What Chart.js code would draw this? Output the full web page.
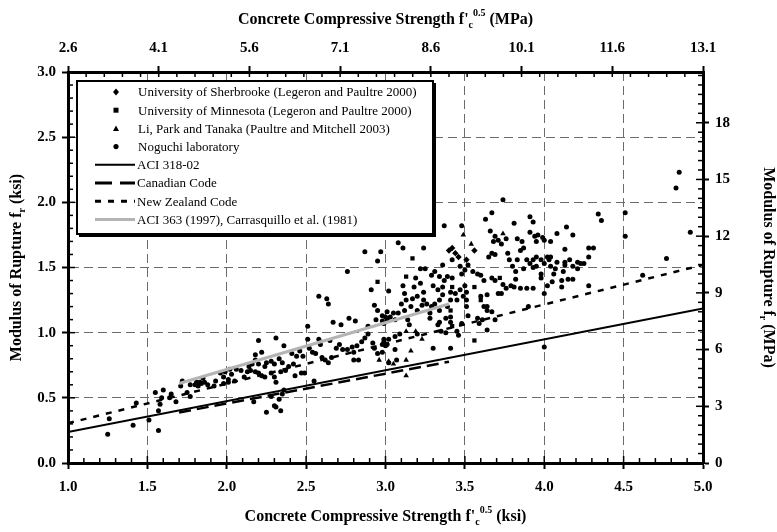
<!DOCTYPE html>
<html>
<head>
<meta charset="utf-8">
<script src="https://cdn.jsdelivr.net/npm/chart.js@4"></script>
<style>
  html, body { margin: 0; padding: 0; background: #fff; }
  #wrap { width: 777px; height: 532px; }
</style>
</head>
<body>
<div id="wrap"><canvas id="rupture" width="777" height="532"></canvas></div>
<script>
// ================= DATA =================
// x = sqrt(f'c) in ksi^0.5, y = modulus of rupture in ksi
const sherbrooke = [
  [3.40, 1.63], [3.42, 1.65], [3.44, 1.61], [3.46, 1.58], [3.51, 1.56], [3.56, 1.63]
];
const minnesota = [
  [3.17, 1.57], [3.13, 1.43], [3.42, 1.35], [3.56, 1.35], [3.72, 1.42], [3.41, 1.17],
  [3.42, 1.05], [3.56, 0.94], [3.60, 1.25], [2.95, 1.39]
];
const liParkTanaka = [
  [3.49, 1.75], [3.74, 1.76], [3.54, 1.68], [3.19, 1.01], [3.13, 1.01], [3.23, 0.95],
  [3.16, 0.86], [3.13, 0.79], [3.02, 0.78], [3.05, 0.76], [3.13, 0.67], [2.96, 0.79]
];
const noguchi = [
  [1.25, 0.22], [1.26, 0.34], [1.41, 0.29], [1.43, 0.46], [1.51, 0.33], [1.57, 0.25],
  [1.57, 0.40], [1.55, 0.54], [1.58, 0.45], [1.59, 0.50], [1.60, 0.56], [1.64, 0.50],
  [1.65, 0.53], [1.68, 0.47], [1.71, 0.59], [1.72, 0.63], [1.75, 0.54], [1.77, 0.51],
  [1.77, 0.60], [1.81, 0.62], [1.83, 0.62], [1.85, 0.65], [1.84, 0.61], [1.88, 0.60],
  [1.92, 0.59], [1.93, 0.63], [1.96, 0.69], [1.98, 0.61], [1.99, 0.70], [2.01, 0.64],
  [2.02, 0.72], [1.80, 0.60], [1.82, 0.59], [1.86, 0.62],
  [2.87, 1.62], [2.97, 1.62], [2.95, 1.55], [2.76, 1.47], [2.91, 1.33], [3.02, 1.32],
  [2.58, 1.28], [2.63, 1.26], [2.64, 1.22], [2.93, 1.21], [2.95, 1.17], [3.01, 1.16],
  [2.67, 1.08], [2.72, 1.06], [2.77, 1.11], [2.81, 1.09], [2.51, 1.05], [2.89, 1.05],
  [2.94, 1.10], [2.98, 1.09], [3.00, 1.12],
  [2.20, 0.94], [2.31, 0.96], [2.22, 0.85], [2.18, 0.83], [2.36, 0.90], [2.51, 0.95],
  [2.58, 0.95], [2.59, 0.91], [2.65, 0.94], [2.41, 0.84], [2.44, 0.82], [2.46, 0.86],
  [2.48, 0.82], [2.52, 0.88], [2.54, 0.85], [2.56, 0.84], [2.60, 0.81], [2.62, 0.79],
  [2.64, 0.77], [2.66, 0.81], [2.69, 0.88], [2.71, 0.91], [2.73, 0.87], [2.76, 0.87],
  [2.79, 0.89], [2.80, 0.85], [2.82, 0.90], [2.85, 0.93], [2.87, 0.96], [2.89, 0.99],
  [2.92, 0.92], [2.93, 0.88], [2.95, 0.84], [2.98, 0.91], [2.99, 0.95], [3.01, 0.91],
  [2.80, 0.79], [2.83, 0.79], [3.02, 0.77],
  [2.33, 0.80], [2.35, 0.77], [2.30, 0.76], [2.28, 0.78], [2.25, 0.77], [2.24, 0.74],
  [2.20, 0.76], [2.18, 0.79], [2.16, 0.76], [2.14, 0.74], [2.15, 0.71], [2.18, 0.70],
  [2.20, 0.69], [2.22, 0.67], [2.24, 0.66], [2.28, 0.69], [2.30, 0.66], [2.31, 0.62],
  [2.34, 0.70], [2.37, 0.71], [2.39, 0.74], [2.42, 0.76], [2.43, 0.67], [2.47, 0.69],
  [2.49, 0.69], [2.09, 0.71], [2.06, 0.72], [2.03, 0.68], [2.01, 0.62], [2.05, 0.63],
  [2.11, 0.66], [2.13, 0.70], [1.98, 0.66], [2.55, 0.63], [2.36, 0.56], [2.35, 0.53],
  [2.33, 0.49], [2.28, 0.51], [2.17, 0.47], [2.25, 0.39], [2.30, 0.44], [2.31, 0.43],
  [2.34, 0.40],
  [3.74, 2.02], [3.67, 1.92], [3.63, 1.87], [3.81, 1.84], [3.91, 1.89], [3.93, 1.85],
  [3.37, 1.82], [3.48, 1.82], [3.66, 1.78], [3.69, 1.74], [3.76, 1.72], [3.68, 1.70],
  [3.71, 1.71], [3.73, 1.68], [3.83, 1.72], [3.86, 1.70], [3.91, 1.77], [3.94, 1.74],
  [3.96, 1.75], [3.99, 1.73], [3.95, 1.70], [4.00, 1.71], [3.08, 1.69], [3.11, 1.65],
  [3.24, 1.65], [3.42, 1.56], [3.52, 1.52], [3.47, 1.51], [3.65, 1.58], [3.67, 1.61],
  [3.69, 1.60], [3.77, 1.61], [3.78, 1.56], [3.83, 1.56], [3.85, 1.63], [3.87, 1.65],
  [3.89, 1.56], [3.91, 1.53], [3.93, 1.56], [3.95, 1.58], [3.98, 1.56], [4.00, 1.53],
  [4.02, 1.58], [3.87, 1.49], [3.93, 1.50], [3.95, 1.51], [3.98, 1.45], [3.98, 1.42],
  [3.80, 1.51], [3.82, 1.47], [3.82, 1.41], [3.22, 1.49], [3.25, 1.49], [3.36, 1.52],
  [3.31, 1.47], [3.29, 1.44], [3.34, 1.43], [3.37, 1.40], [3.39, 1.43], [3.42, 1.42],
  [3.48, 1.45], [3.50, 1.48], [3.55, 1.47], [3.58, 1.45], [3.60, 1.44], [3.19, 1.42],
  [3.22, 1.38], [3.18, 1.35], [3.11, 1.36], [3.12, 1.30], [3.24, 1.31], [3.30, 1.36],
  [3.33, 1.33], [3.36, 1.35], [3.41, 1.31], [3.44, 1.30], [3.47, 1.33], [3.50, 1.36],
  [3.51, 1.31], [3.62, 1.40], [3.67, 1.42], [3.69, 1.40], [3.74, 1.37], [3.76, 1.34],
  [3.79, 1.36], [3.81, 1.35], [3.85, 1.34], [3.89, 1.34], [3.93, 1.34], [3.71, 1.30],
  [3.73, 1.30], [3.64, 1.29], [3.60, 1.28], [3.62, 1.20], [3.64, 1.17], [3.67, 1.16],
  [3.69, 1.10], [3.61, 1.10], [3.59, 1.07], [3.52, 1.13], [3.51, 1.20], [3.51, 1.25],
  [3.49, 1.28], [3.45, 1.25], [3.41, 1.25], [3.36, 1.29], [3.34, 1.25], [3.31, 1.22],
  [3.29, 1.20], [3.28, 1.15], [3.28, 1.11], [3.34, 1.17], [3.39, 1.20], [3.41, 1.12],
  [3.38, 1.11], [3.41, 1.08], [3.45, 1.01], [3.48, 1.07], [3.64, 1.02], [3.38, 1.00],
  [3.35, 1.01], [3.33, 1.06], [3.34, 1.08], [3.26, 1.22], [3.24, 1.25], [3.20, 1.28],
  [3.17, 1.26], [3.13, 1.25], [3.10, 1.22], [3.16, 1.20], [3.20, 1.17], [3.23, 1.21],
  [3.12, 1.17], [3.08, 1.15], [3.05, 1.15], [3.03, 1.12], [3.01, 1.10], [2.98, 1.13],
  [2.99, 1.07], [3.06, 1.10], [3.14, 1.10], [3.15, 1.06], [3.20, 0.99], [3.09, 0.99],
  [3.06, 0.97], [3.02, 0.95], [2.99, 0.93], [3.00, 0.90], [2.98, 0.85], [3.06, 0.87],
  [3.07, 0.79], [3.30, 0.88], [3.41, 0.88], [3.46, 0.98], [3.58, 1.11], [4.00, 0.89],
  [3.90, 1.20], [4.00, 1.30], [3.64, 1.20],
  [4.85, 2.23], [4.83, 2.11], [4.92, 1.77], [4.34, 1.91], [4.36, 1.86], [4.51, 1.92],
  [4.51, 1.74], [4.14, 1.81], [4.08, 1.76], [4.18, 1.75], [4.04, 1.70], [4.13, 1.64],
  [4.28, 1.65], [4.31, 1.65], [4.28, 1.58], [4.03, 1.56], [4.04, 1.58], [4.08, 1.54],
  [4.13, 1.54], [4.16, 1.56], [4.13, 1.52], [4.18, 1.51], [4.21, 1.54], [4.23, 1.53],
  [4.25, 1.53], [4.21, 1.49], [4.04, 1.51], [4.07, 1.49], [4.12, 1.47], [4.06, 1.45],
  [4.15, 1.41], [4.18, 1.41], [4.11, 1.40], [4.05, 1.39], [4.02, 1.36], [4.11, 1.35],
  [4.28, 1.36], [4.77, 1.57], [4.62, 1.44]
];

// code equations, end points of each line
const aci318X = [1.0, 5.0], aci318Y = [0.237, 1.186];
const canadianX = [1.7, 3.4], canadianY = [0.388, 0.777];
const newZealandX = [1.0, 5.0], newZealandY = [0.305, 1.52];
const aci363X = [1.7, 3.4], aci363Y = [0.61, 1.22];

// secondary axes (MPa)
const topTicks = [2.6, 4.1, 5.6, 7.1, 8.6, 10.1, 11.6, 13.1];
const rightTicks = [0, 3, 6, 9, 12, 15, 18];

const legendLabels = [
  "University of Sherbrooke (Legeron and Paultre 2000)",
  "University of Minnesota (Legeron and Paultre 2000)",
  "Li, Park and Tanaka (Paultre and Mitchell 2003)",
  "Noguchi laboratory",
  "ACI 318-02",
  "Canadian Code",
  "New Zealand Code",
  "ACI 363 (1997), Carrasquillo et al. (1981)"
];

// ================= HELPERS =================
const SERIF = "'Liberation Serif', 'Times New Roman', serif";
const pts = arr => arr.map(p => ({ x: p[0], y: p[1] }));
const line = (xs, ys) => xs.map((x, i) => ({ x, y: ys[i] }));

const GRID = "#6b6b6b";
const edgeless = (lo, hi) => ctx =>
  (ctx.tick && (Math.abs(ctx.tick.value - lo) < 1e-6 || Math.abs(ctx.tick.value - hi) < 1e-6))
    ? "rgba(0,0,0,0)" : GRID;

// text with sub/superscript pieces: [text, kind] kind = 0 normal, -1 sub, 1 sup
function drawRich(ctx, parts, cx, cy, angle) {
  const big = "bold 16px " + SERIF, small = "bold 10px " + SERIF;
  let total = 0;
  parts.forEach(p => { ctx.font = p[1] ? small : big; total += ctx.measureText(p[0]).width; });
  ctx.save();
  ctx.translate(cx, cy);
  ctx.rotate(angle);
  ctx.fillStyle = "#000";
  ctx.textBaseline = "middle";
  ctx.textAlign = "left";
  let x = -total / 2;
  parts.forEach(p => {
    ctx.font = p[1] ? small : big;
    const dy = p[1] === -1 ? 5 : p[1] === 1 ? -7 : 0;
    ctx.fillText(p[0], x, dy);
    x += ctx.measureText(p[0]).width;
  });
  ctx.restore();
}

// ================= PLUGINS =================
const axisDecor = {
  id: "axisDecor",
  afterDraw(chart) {
    const { ctx, chartArea: a, scales } = chart;
    ctx.save();
    ctx.strokeStyle = "#000";
    ctx.lineWidth = 1.5;
    const tick = (x1, y1, x2, y2) => { ctx.beginPath(); ctx.moveTo(x1, y1); ctx.lineTo(x2, y2); ctx.stroke(); };

    // inward minor ticks
    for (let v = 1.0; v <= 5.0001; v += 0.1) {
      const x = scales.x.getPixelForValue(v);
      const major = Math.abs(v * 2 - Math.round(v * 2)) < 1e-6;
      tick(x, a.bottom, x, a.bottom - (major ? 7 : 5));
    }
    for (let v = 0; v <= 3.0001; v += 0.1) {
      const y = scales.y.getPixelForValue(v);
      const major = Math.abs(v * 2 - Math.round(v * 2)) < 1e-6;
      tick(a.left, y, a.left + (major ? 7 : 5), y);
    }
    for (let v = 2.6; v <= 13.1001; v += 0.3) {
      const x = scales.x2.getPixelForValue(v);
      tick(x, a.top, x, a.top + 5);
    }
    for (let v = 0; v <= 20.6; v += 0.5) {
      const y = scales.y2.getPixelForValue(v);
      const major = Math.abs(v / 3 - Math.round(v / 3)) < 1e-6;
      tick(a.right, y, a.right - (major ? 7 : 5), y);
    }
    ctx.restore();

    // axis titles
    const midX = (a.left + a.right) / 2, midY = (a.top + a.bottom) / 2;
    const base = "Concrete Compressive Strength f'";
    drawRich(ctx, [[base, 0], ["c", -1], ["0.5", 1], [" (ksi)", 0]], midX, 517, 0);
    drawRich(ctx, [[base, 0], ["c", -1], ["0.5", 1], [" (MPa)", 0]], midX, 20, 0);
    drawRich(ctx, [["Modulus of Rupture f", 0], ["r", -1], [" (ksi)", 0]], 17, midY, -Math.PI / 2);
    drawRich(ctx, [["Modulus of Rupture f", 0], ["r", -1], [" (MPa)", 0]], 768, midY, Math.PI / 2);
  }
};

const boxLegend = {
  id: "boxLegend",
  afterDatasetsDraw(chart) {
    const ctx = chart.ctx;
    const x0 = 77, y0 = 81, x1 = 433, y1 = 234;
    ctx.save();
    ctx.fillStyle = "#000";
    ctx.fillRect(x0 + 2, y0 + 2, x1 - x0 + 1, y1 - y0 + 1);
    ctx.fillStyle = "#fff";
    ctx.fillRect(x0, y0, x1 - x0, y1 - y0);
    ctx.strokeStyle = "#000";
    ctx.lineWidth = 2;
    ctx.strokeRect(x0, y0, x1 - x0, y1 - y0);

    const mx = 116, lx0 = 95, lx1 = 135, tx = 137;
    const rowY = i => 92 + i * 18.2;
    ctx.fillStyle = "#000";
    // markers
    let y = rowY(0);
    ctx.beginPath(); ctx.moveTo(mx, y - 3.5); ctx.lineTo(mx + 3, y); ctx.lineTo(mx, y + 3.5); ctx.lineTo(mx - 3, y); ctx.closePath(); ctx.fill();
    y = rowY(1); ctx.fillRect(mx - 2.5, y - 2.5, 5, 5);
    y = rowY(2); ctx.beginPath(); ctx.moveTo(mx, y - 3); ctx.lineTo(mx + 3, y + 2.5); ctx.lineTo(mx - 3, y + 2.5); ctx.closePath(); ctx.fill();
    y = rowY(3); ctx.beginPath(); ctx.arc(mx, y, 2.6, 0, Math.PI * 2); ctx.fill();
    // line samples
    const sample = (i, dash, w, color) => {
      ctx.save();
      ctx.setLineDash(dash); ctx.lineWidth = w; ctx.strokeStyle = color;
      ctx.beginPath(); ctx.moveTo(lx0, rowY(i)); ctx.lineTo(lx1, rowY(i)); ctx.stroke();
      ctx.restore();
    };
    sample(4, [], 2, "#000");
    sample(5, [17, 8], 3, "#000");
    sample(6, [6, 7], 3, "#000");
    sample(7, [], 3, "#b4b4b4");
    // labels
    ctx.font = "13px " + SERIF;
    ctx.textBaseline = "middle";
    ctx.textAlign = "left";
    legendLabels.forEach((t, i) => {
      const x = i < 4 ? tx + 1 : tx;
      ctx.fillText(t, x, rowY(i) + 1);
    });
    ctx.restore();
  }
};

// ================= CHART =================
const tickFont = { family: SERIF, size: 15, weight: "bold" };

new Chart(document.getElementById("rupture"), {
  type: "scatter",
  data: {
    datasets: [
      { data: line(aci363X, aci363Y), type: "line", showLine: true, borderColor: "#b4b4b4", borderWidth: 3, pointRadius: 0, xAxisID: "x", yAxisID: "y" },
      { data: line(aci318X, aci318Y), type: "line", showLine: true, borderColor: "#000", borderWidth: 2, pointRadius: 0, xAxisID: "x", yAxisID: "y" },
      { data: line(canadianX, canadianY), type: "line", showLine: true, borderColor: "#000", borderWidth: 2.5, borderDash: [12, 6], pointRadius: 0, xAxisID: "x", yAxisID: "y" },
      { data: line(newZealandX, newZealandY), type: "line", showLine: true, borderColor: "#000", borderWidth: 2.5, borderDash: [6, 7], pointRadius: 0, xAxisID: "x", yAxisID: "y" },
      { data: pts(noguchi), pointStyle: "circle", pointRadius: 2.5, backgroundColor: "#000", borderWidth: 0, xAxisID: "x", yAxisID: "y" },
      { data: pts(sherbrooke), pointStyle: "rectRot", pointRadius: 3.2, backgroundColor: "#000", borderWidth: 0, xAxisID: "x", yAxisID: "y" },
      { data: pts(minnesota), pointStyle: "rect", pointRadius: 3, backgroundColor: "#000", borderWidth: 0, xAxisID: "x", yAxisID: "y" },
      { data: pts(liParkTanaka), pointStyle: "triangle", pointRadius: 3.2, backgroundColor: "#000", borderWidth: 0, xAxisID: "x", yAxisID: "y" }
    ]
  },
  options: {
    responsive: false,
    devicePixelRatio: 1,
    animation: false,
    layout: { padding: 0 },
    plugins: { legend: { display: false }, tooltip: { enabled: false } },
    scales: {
      x: {
        type: "linear", position: "bottom", min: 1, max: 5,
        ticks: { stepSize: 0.5, autoSkip: false, maxRotation: 0, padding: 9, color: "#000", font: tickFont, callback: v => v.toFixed(1) },
        grid: { color: edgeless(1, 5), lineWidth: 1, tickColor: "#000", tickLength: 6, tickWidth: 2, tickBorderDash: [] },
        border: { color: "#000", width: 3, dash: [9, 5] },
        afterFit: s => { s.height = 69; }
      },
      y: {
        type: "linear", position: "left", min: 0, max: 3,
        ticks: { stepSize: 0.5, autoSkip: false, padding: 6, color: "#000", font: tickFont, callback: v => v.toFixed(1) },
        grid: { color: edgeless(0, 3), lineWidth: 1, tickColor: "#000", tickLength: 6, tickWidth: 2, tickBorderDash: [] },
        border: { color: "#000", width: 3, dash: [9, 5] },
        afterFit: s => { s.width = 68; }
      },
      x2: {
        type: "linear", position: "top", min: 2.6, max: 13.1,
        afterBuildTicks: s => { s.ticks = topTicks.map(v => ({ value: v })); },
        ticks: { autoSkip: false, maxRotation: 0, padding: 9, color: "#000", font: tickFont, callback: v => v.toFixed(1) },
        grid: { drawOnChartArea: false, tickColor: "#000", tickLength: 6, tickWidth: 2 },
        border: { color: "#000", width: 3 },
        afterFit: s => { s.height = 72; }
      },
      y2: {
        type: "linear", position: "right", min: 0, max: 3 * 6.895,
        afterBuildTicks: s => { s.ticks = rightTicks.map(v => ({ value: v })); },
        ticks: { autoSkip: false, padding: 6, color: "#000", font: tickFont, callback: v => String(v) },
        grid: { drawOnChartArea: false, tickColor: "#000", tickLength: 6, tickWidth: 2 },
        border: { color: "#000", width: 3 },
        afterFit: s => { s.width = 74; }
      }
    }
  },
  plugins: [boxLegend, axisDecor]
});
</script>
</body>
</html>
